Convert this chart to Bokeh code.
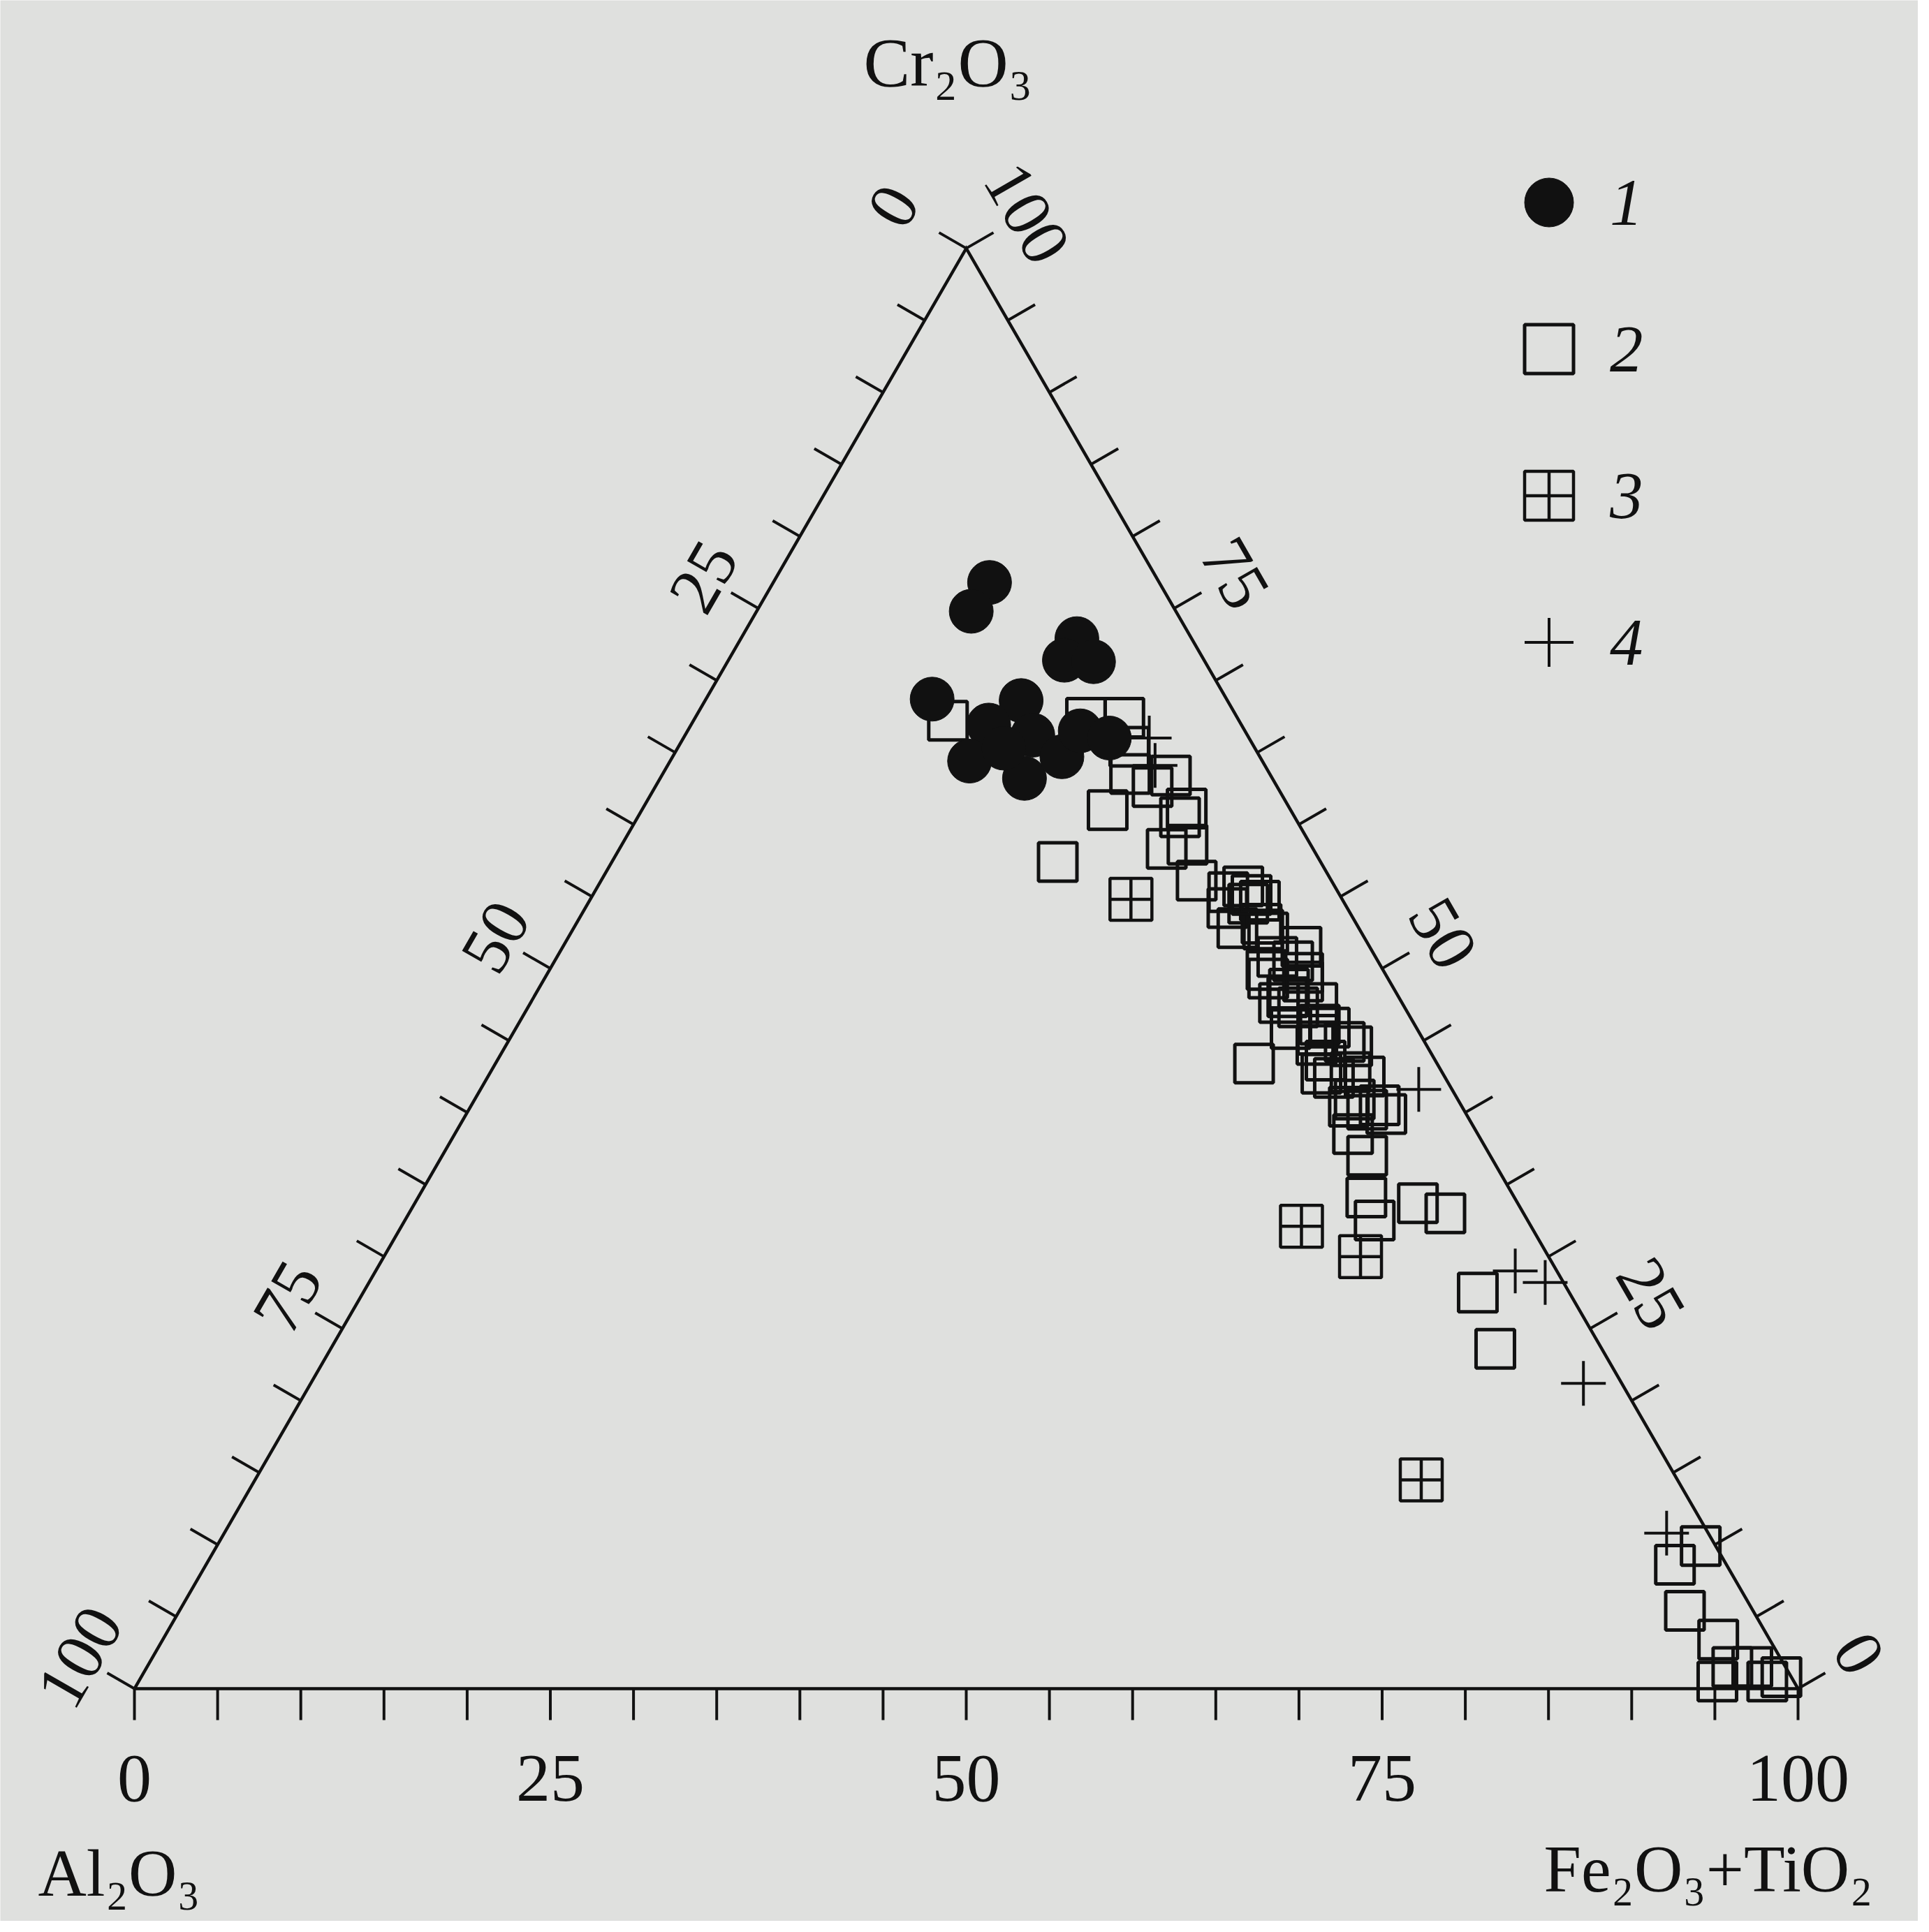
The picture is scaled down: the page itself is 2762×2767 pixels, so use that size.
import math
from bokeh.plotting import figure
from bokeh.models import ColumnDataSource, Legend, LegendItem
from bokeh.core.properties import value
from bokeh.embed import file_html
from bokeh.resources import INLINE

# ---------------- data (percent) ----------------
# series 1 : filled circles
s1_cr = [76.8, 74.8, 72.9, 71.4, 71.3, 68.7, 68.6, 66.9, 64.4, 66.2, 63.2, 64.7, 66.5, 66.0, 65.3]
s1_fe = [13.0, 12.9, 20.2, 20.2, 22.0, 13.6, 19.0, 17.9, 18.0, 20.9, 21.9, 23.4, 23.6, 25.6, 19.6]
s1_al = [10.2, 12.3, 6.9, 8.4, 6.7, 17.7, 12.4, 15.2, 17.6, 12.9, 14.9, 11.9, 9.9, 8.4, 15.1]

# series 2 : open squares
s2_cr = [67.2, 67.4, 67.4, 65.4, 63.4, 61.0, 60.5, 58.3, 57.4, 61.1, 58.6, 56.1, 55.3, 55.7,
         54.5, 54.2, 54.7, 52.8, 53.1, 52.5, 51.5, 50.8, 50.5, 49.3, 49.1, 47.6, 47.3, 47.6,
         46.1, 44.9, 43.4, 45.8, 45.4, 44.6, 42.7, 42.8, 42.5, 40.2, 39.9, 38.5, 37.0, 34.1,
         33.7, 33.0, 32.5, 27.5, 23.6, 8.6, 9.9, 5.4, 3.4, 0.5, 1.5, 1.5, 0.5, 0.8,
         63.5, 62.6, 52.7, 49.9, 49.7, 48.0, 43.6, 40.9, 40.5,
         55.1, 48.6, 45.9, 44.7, 42.4, 40.4]
s2_fe = [15.3, 23.5, 25.8, 27.1, 30.6, 28.0, 32.6, 32.9, 26.8, 32.7, 34.0, 35.8, 38.1, 38.8,
         39.7, 38.6, 40.3, 39.9, 41.2, 41.9, 44.4, 43.3, 44.4, 43.5, 45.7, 45.0, 46.3, 47.3,
         48.2, 50.3, 45.6, 46.6, 48.4, 50.9, 50.0, 51.7, 52.7, 54.0, 55.3, 54.0, 55.6, 57.0,
         60.3, 62.3, 58.3, 67.0, 70.0, 88.3, 89.2, 90.5, 93.5, 94.9, 95.3, 96.5, 97.9, 98.6,
         28.1, 29.9, 41.5, 43.1, 45.4, 45.3, 49.8, 52.9, 54.6,
         39.6, 45.1, 48.9, 48.7, 50.9, 52.8]
s2_al = [17.5, 9.1, 6.8, 7.5, 6.0, 11.0, 6.9, 8.8, 15.8, 6.2, 7.4, 8.1, 6.6, 5.5,
         5.8, 7.2, 5.0, 7.3, 5.7, 5.6, 4.1, 5.9, 5.1, 7.2, 5.2, 7.4, 6.4, 5.1,
         5.7, 4.8, 11.0, 7.6, 6.2, 4.5, 7.3, 5.5, 4.8, 5.8, 4.8, 7.5, 7.4, 8.9,
         6.0, 4.7, 9.2, 5.5, 6.4, 3.1, 0.9, 4.1, 3.1, 4.6, 3.2, 2.0, 1.6, 0.6,
         8.4, 7.5, 5.8, 7.0, 4.9, 6.7, 6.6, 6.2, 4.9,
         5.3, 6.3, 5.2, 6.6, 6.7, 6.8]

# series 3 : squares with cross
s3_cr = [54.8, 32.1, 30.0, 14.5]
s3_fe = [32.5, 54.1, 58.7, 70.1]
s3_al = [12.7, 13.8, 11.3, 15.4]

# series 4 : plus signs
s4_cr = [41.6, 29.0, 28.2, 21.2, 10.8, 66.0, 64.1]
s4_fe = [56.4, 68.5, 70.7, 76.5, 86.7, 28.0, 29.3]
s4_al = [2.0, 2.5, 1.1, 2.3, 2.5, 6.0, 6.6]

axis_labels = [0, 25, 50, 75, 100]
minor_ticks = list(range(0, 101, 5))
title_top = "Cr₂O₃"
title_left = "Al₂O₃"
title_right = "Fe₂O₃+TiO₂"
legend_labels = ["1", "2", "3", "4"]

# ---------------- geometry ----------------
R3 = math.sqrt(3) / 2
INK = "#111111"
BG = "#dfe0de"
FONT_NAME = "Liberation Serif"
FONT = value(FONT_NAME)


def tern(cr, fe, al):
    xs, ys = [], []
    for c, f, a in zip(cr, fe, al):
        t = c + f + a
        c, f = 100 * c / t, 100 * f / t
        xs.append(f + c / 2)
        ys.append(c * R3)
    return dict(x=xs, y=ys)


W, H = 2746, 2751
S = 23.82                      # pixels per percent along the base
X0 = -192 / S
Y1 = 2418 / S
X1 = X0 + W / S
Y0 = Y1 - H / S


def page(px, py):
    return X0 + (px - 8) / S, Y1 - (py - 8) / S


p = figure(width=W, height=H, x_range=(X0, X1), y_range=(Y0, Y1),
           x_axis_type=None, y_axis_type=None, output_backend="svg",
           toolbar_location=None, min_border=0,
           background_fill_color=BG, border_fill_color=BG, outline_line_color=None)

# triangle
p.line([0, 100, 50, 0], [0, 0, 100 * R3, 0], line_width=4.5, line_color=INK, line_join="miter")

# ticks
tl = 45 / S
sx0, sy0, sx1, sy1 = [], [], [], []
for v in minor_ticks:
    # bottom: Fe2O3+TiO2
    sx0.append(v); sy0.append(0); sx1.append(v); sy1.append(-tl)
    # left: Al2O3
    c = 100 - v
    bx, by = c / 2, c * R3
    sx0.append(bx); sy0.append(by); sx1.append(bx - R3 * tl); sy1.append(by + 0.5 * tl)
    # right: Cr2O3
    bx, by = 100 - v / 2, v * R3
    sx0.append(bx); sy0.append(by); sx1.append(bx + R3 * tl); sy1.append(by + 0.5 * tl)
p.segment(sx0, sy0, sx1, sy1, line_width=4, line_color=INK)

# tick labels
lx, ly, lt, la = [], [], [], []
for v in axis_labels:
    lx.append(v); ly.append(-128 / S); lt.append(str(v)); la.append(0)
    c = 100 - v
    d = (90 if v > 0 else 120) / S
    lx.append(c / 2 - R3 * d); ly.append(c * R3 + 0.5 * d); lt.append(str(v)); la.append(math.pi / 3)
    d = 100 / S
    lx.append(100 - v / 2 + R3 * d); ly.append(v * R3 + 0.5 * d); lt.append(str(v)); la.append(-math.pi / 3)
p.text(x="x", y="y", text="t", angle="a", source=ColumnDataSource(dict(x=lx, y=ly, t=lt, a=la)),
       text_font=FONT, text_font_size="98px", text_color=INK,
       text_align="center", text_baseline="middle")

# vertex titles
tx, ty = page(1365, 97)
p.text(x=[tx], y=[ty], text=[title_top], text_font=FONT, text_font_size="100px",
       text_color=INK, text_align="center", text_baseline="middle")
tx, ty = page(62, 2690)
p.text(x=[tx], y=[ty], text=[title_left], text_font=FONT, text_font_size="96px",
       text_color=INK, text_align="left", text_baseline="middle")
tx, ty = page(2218, 2684)
p.text(x=[tx], y=[ty], text=[title_right], text_font=FONT, text_font_size="96px",
       text_color=INK, text_align="left", text_baseline="middle")

# data
r2 = p.scatter("x", "y", source=ColumnDataSource(tern(s2_cr, s2_fe, s2_al)), marker="square",
               size=55, line_width=5, line_color=INK, fill_alpha=0)
r3 = p.scatter("x", "y", source=ColumnDataSource(tern(s3_cr, s3_fe, s3_al)), marker="square_cross",
               size=60, line_width=4.5, line_color=INK, fill_alpha=0)
r4 = p.scatter("x", "y", source=ColumnDataSource(tern(s4_cr, s4_fe, s4_al)), marker="cross",
               size=64, line_width=4, line_color=INK)
r1 = p.scatter("x", "y", source=ColumnDataSource(tern(s1_cr, s1_fe, s1_al)), marker="circle",
               size=63, line_width=1, line_color=INK, fill_color=INK)

legend = Legend(items=[LegendItem(label=legend_labels[0], renderers=[r1]),
                       LegendItem(label=legend_labels[1], renderers=[r2]),
                       LegendItem(label=legend_labels[2], renderers=[r3]),
                       LegendItem(label=legend_labels[3], renderers=[r4])],
                location=(2130, H - 1007), orientation="vertical",
                glyph_width=175, glyph_height=175, spacing=35, padding=0, margin=0,
                label_standoff=0, label_text_font=FONT_NAME, label_text_font_size="95px",
                label_text_font_style="italic", label_text_color=INK,
                border_line_color=None, background_fill_alpha=0)
p.add_layout(legend, "center")

open("out.html", "w").write(file_html(p, INLINE))
